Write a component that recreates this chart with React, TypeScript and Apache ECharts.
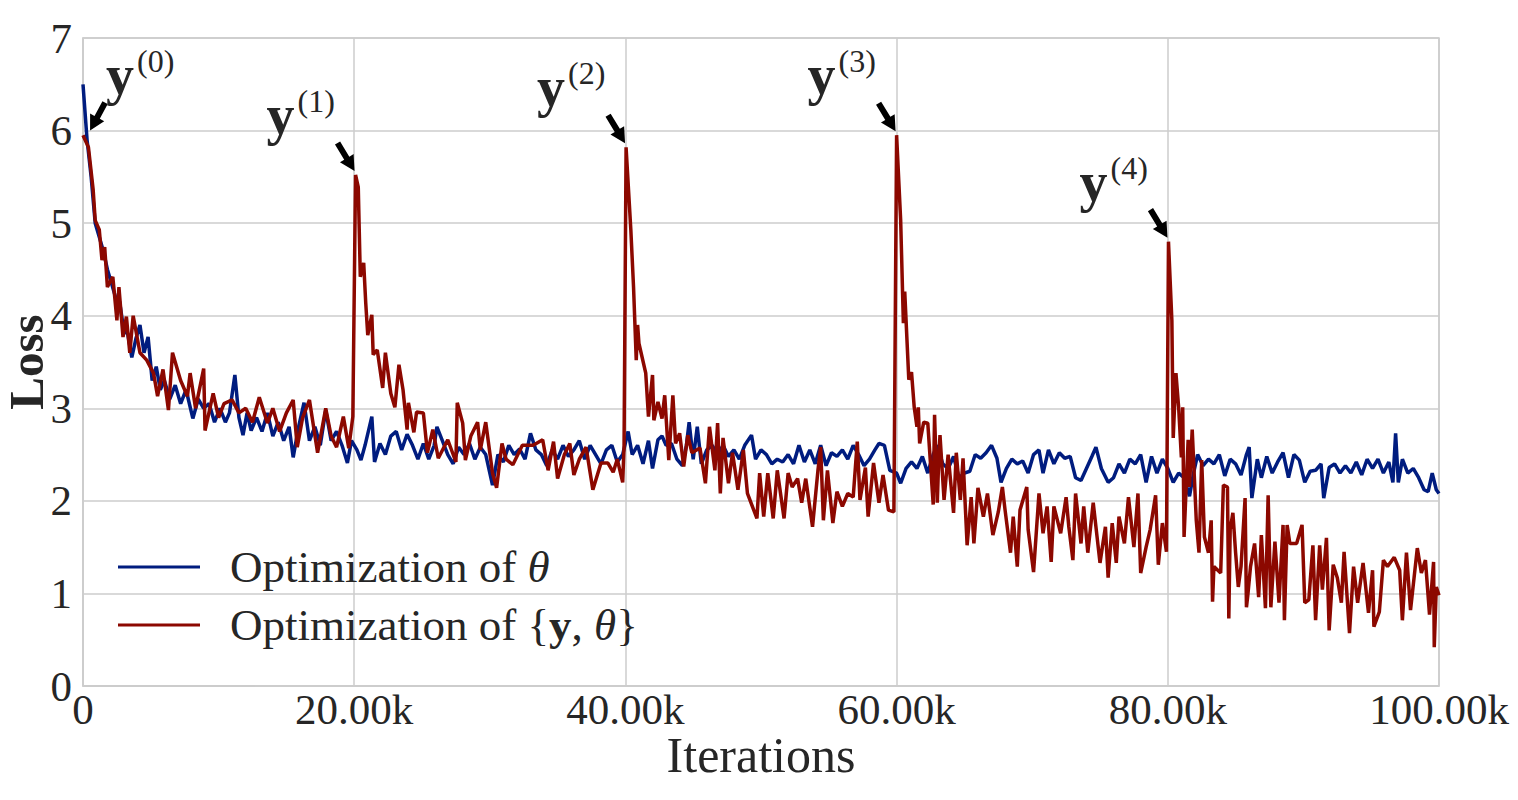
import React, { useEffect, useRef } from "react";
import * as echarts from "echarts";

// ---- data (iterations in thousands, loss) ----
const xTickLabels = ["0", "20.00k", "40.00k", "60.00k", "80.00k", "100.00k"];
const yTickLabels = ["0", "1", "2", "3", "4", "5", "6", "7"];
const seriesNames = ["Optimization of θ", "Optimization of {y, θ}"];

const thetaLoss: [number, number][] = [
  [0, 6.5], [0.3, 5.9], [0.6, 5.5], [0.9, 5.0], [1.2, 4.85], [1.5, 4.7], [1.8, 4.5], [2.1, 4.35], [2.4, 4.2], [2.7, 4.15],
  [3.0, 3.85], [3.3, 3.8], [3.6, 3.55], [3.9, 3.75], [4.2, 3.9], [4.5, 3.6], [4.8, 3.77], [5.1, 3.3], [5.4, 3.45], [5.7, 3.2],
  [6.0, 3.3], [6.4, 3.1], [6.8, 3.25], [7.2, 3.05], [7.6, 3.2], [8.1, 2.89], [8.5, 3.1], [8.9, 3.0], [9.3, 3.05], [9.7, 2.85],
  [10.1, 3.0], [10.5, 2.85], [10.8, 2.95], [11.2, 3.36], [11.5, 2.9], [11.8, 2.71], [12.1, 2.95], [12.4, 2.76], [12.8, 2.9], [13.2, 2.75],
  [13.6, 2.95], [14.0, 2.7], [14.4, 2.85], [14.8, 2.65], [15.2, 2.8], [15.5, 2.47], [15.9, 2.8], [16.3, 3.06], [16.7, 2.65], [17.1, 2.8],
  [17.5, 2.6], [17.9, 2.98], [18.3, 2.65], [18.7, 2.75], [19.1, 2.6], [19.5, 2.41], [19.8, 2.65], [20.2, 2.55], [20.5, 2.44], [20.8, 2.6],
  [21.3, 2.91], [21.5, 2.42], [21.9, 2.62], [22.3, 2.5], [22.7, 2.7], [23.1, 2.75], [23.5, 2.55], [23.9, 2.72], [24.3, 2.6], [24.7, 2.45],
  [25.1, 2.62], [25.5, 2.45], [25.9, 2.6], [26.1, 2.8], [26.5, 2.65], [26.9, 2.5], [27.3, 2.4], [27.7, 2.58], [28.1, 2.5], [28.5, 2.62],
  [28.9, 2.45], [29.3, 2.58], [29.7, 2.5], [30.2, 2.17], [30.6, 2.5], [31.0, 2.42], [31.4, 2.6], [31.8, 2.5], [32.2, 2.56], [32.6, 2.45],
  [33.0, 2.73], [33.4, 2.55], [33.8, 2.5], [34.2, 2.38], [34.6, 2.55], [35.0, 2.45], [35.4, 2.6], [35.8, 2.48], [36.2, 2.55], [36.6, 2.65],
  [37.0, 2.45], [37.4, 2.6], [37.8, 2.5], [38.2, 2.4], [38.6, 2.55], [39.0, 2.6], [39.4, 2.42], [39.8, 2.5], [40.2, 2.75], [40.5, 2.5],
  [40.9, 2.6], [41.3, 2.4], [41.7, 2.65], [42.0, 2.35], [42.4, 2.66], [42.7, 2.7], [43.0, 2.6], [43.4, 2.62], [43.8, 2.45], [44.2, 2.38],
  [44.5, 2.6], [44.7, 2.85], [45.0, 2.45], [45.3, 2.8], [45.6, 2.4], [46.0, 2.55], [46.4, 2.6], [46.8, 2.5], [47.2, 2.6], [47.6, 2.48],
  [48.0, 2.55], [48.4, 2.45], [48.8, 2.6], [49.3, 2.71], [49.6, 2.45], [50.0, 2.55], [50.4, 2.5], [50.8, 2.4], [51.2, 2.45], [51.6, 2.42],
  [52.0, 2.5], [52.4, 2.4], [52.8, 2.6], [53.2, 2.42], [53.6, 2.55], [54.0, 2.4], [54.4, 2.6], [54.8, 2.38], [55.2, 2.52], [55.6, 2.48],
  [56.0, 2.55], [56.4, 2.45], [56.8, 2.6], [57.2, 2.5], [57.6, 2.38], [58.0, 2.45], [58.4, 2.55], [58.7, 2.62], [59.1, 2.6], [59.5, 2.33],
  [60.0, 2.3], [60.3, 2.19], [60.7, 2.35], [61.1, 2.42], [61.5, 2.35], [61.9, 2.48], [62.3, 2.3], [62.7, 2.5], [63.0, 2.6], [63.4, 2.4],
  [63.8, 2.35], [64.2, 2.48], [64.6, 2.25], [65.0, 2.3], [65.4, 2.32], [65.8, 2.5], [66.2, 2.46], [66.6, 2.52], [67.0, 2.6], [67.4, 2.46],
  [67.7, 2.2], [68.1, 2.35], [68.5, 2.45], [68.9, 2.4], [69.3, 2.43], [69.7, 2.3], [70.1, 2.5], [70.5, 2.55], [70.8, 2.3], [71.2, 2.55],
  [71.6, 2.4], [72.0, 2.52], [72.4, 2.46], [72.8, 2.48], [73.2, 2.25], [73.6, 2.22], [74.0, 2.35], [74.4, 2.48], [74.7, 2.58], [75.1, 2.35],
  [75.6, 2.2], [76.0, 2.25], [76.4, 2.4], [76.8, 2.3], [77.2, 2.45], [77.6, 2.4], [78.0, 2.5], [78.4, 2.2], [78.8, 2.48], [79.2, 2.3],
  [79.6, 2.45], [80.0, 2.35], [80.4, 2.2], [80.8, 2.3], [81.2, 2.25], [81.6, 2.05], [81.9, 2.3], [82.2, 2.5], [82.6, 2.38], [83.0, 2.45],
  [83.4, 2.4], [83.8, 2.5], [84.2, 2.27], [84.6, 2.45], [85.0, 2.4], [85.4, 2.28], [85.8, 2.5], [86.0, 2.58], [86.2, 2.03], [86.6, 2.45],
  [86.9, 2.25], [87.3, 2.48], [87.7, 2.3], [88.1, 2.42], [88.5, 2.52], [88.9, 2.25], [89.3, 2.5], [89.7, 2.44], [90.1, 2.2], [90.5, 2.32],
  [90.9, 2.33], [91.3, 2.4], [91.5, 2.03], [91.9, 2.36], [92.3, 2.4], [92.7, 2.3], [93.1, 2.38], [93.5, 2.3], [93.9, 2.42], [94.3, 2.28],
  [94.7, 2.45], [95.1, 2.35], [95.5, 2.45], [95.9, 2.3], [96.3, 2.42], [96.6, 2.2], [96.8, 2.73], [97.0, 2.2], [97.3, 2.45], [97.7, 2.3],
  [98.1, 2.35], [98.5, 2.25], [98.9, 2.12], [99.2, 2.1], [99.5, 2.3], [99.8, 2.12], [100.0, 2.08],
];

const jointLoss: [number, number][] = [
  [0, 5.95], [0.4, 5.82], [0.75, 5.36], [0.9, 5.03], [1.2, 4.93], [1.4, 4.6], [1.6, 4.74], [1.8, 4.31], [2.2, 4.42], [2.5, 3.95],
  [2.65, 4.31], [2.95, 3.77], [3.2, 3.99], [3.45, 3.6], [3.7, 4.0], [4.2, 3.6], [4.7, 3.52], [5.2, 3.38], [5.5, 3.13], [5.9, 3.42],
  [6.3, 2.98], [6.6, 3.6], [7.2, 3.3], [7.7, 3.13], [7.9, 3.38], [8.3, 3.0], [8.9, 3.43], [9.0, 2.76], [9.6, 3.16], [10.0, 2.9],
  [10.4, 3.05], [11.0, 3.09], [11.5, 2.95], [12.0, 3.0], [12.5, 2.85], [13.0, 3.12], [13.6, 2.84], [14.0, 3.0], [14.5, 2.75], [15.0, 2.95],
  [15.5, 3.09], [15.8, 2.58], [16.2, 2.9], [16.7, 3.09], [17.3, 2.52], [17.9, 3.0], [18.3, 2.7], [18.7, 2.58], [19.2, 2.91], [19.6, 2.57],
  [19.9, 2.91],
  [20.1, 5.52], [20.3, 5.39], [20.45, 4.42], [20.7, 4.57], [20.85, 4.14], [21.0, 3.79], [21.3, 4.01], [21.4, 3.58], [21.7, 3.63], [22.1, 3.22],
  [22.3, 3.6], [22.7, 3.16], [23.0, 3.01], [23.3, 3.47], [23.6, 3.2], [23.9, 2.77], [24.0, 3.06], [24.4, 2.74], [24.6, 2.96], [25.1, 2.95],
  [25.4, 2.52], [25.8, 2.77], [26.2, 2.46], [26.9, 2.66], [27.5, 2.42], [27.6, 3.06], [28.0, 2.84], [28.2, 2.44], [28.6, 2.7], [29.1, 2.85],
  [29.3, 2.55], [29.7, 2.85], [30.2, 2.3], [30.5, 2.14], [30.9, 2.62], [31.2, 2.45], [31.7, 2.39], [32.4, 2.6], [33.2, 2.6], [33.9, 2.66],
  [34.3, 2.33], [34.7, 2.64], [35.0, 2.24], [35.5, 2.5], [35.9, 2.62], [36.2, 2.28], [36.6, 2.45], [37.1, 2.58], [37.6, 2.12], [38.2, 2.41],
  [38.7, 2.41], [39.1, 2.31], [39.4, 2.45], [39.8, 2.2], [39.9, 2.58],
  [40.05, 5.82], [40.4, 4.93], [40.6, 4.31], [40.8, 3.52], [40.9, 3.9], [41.0, 3.7], [41.5, 3.38], [41.7, 2.91], [42.0, 3.36], [42.1, 2.87],
  [42.4, 3.07], [42.7, 2.89], [42.9, 3.14], [43.2, 2.44], [43.5, 3.14], [43.7, 2.62], [44.0, 2.73], [44.3, 2.37], [44.6, 2.71], [44.9, 2.52],
  [45.5, 2.57], [45.9, 2.19], [46.2, 2.8], [46.6, 2.33], [46.8, 2.84], [47.0, 2.08], [47.2, 2.68], [47.6, 2.19], [47.9, 2.52], [48.3, 2.12],
  [48.7, 2.55], [49.0, 2.08], [49.7, 1.81], [49.9, 2.3], [50.2, 1.83], [50.5, 2.3], [50.9, 1.81], [51.2, 2.33], [51.7, 1.81], [52.0, 2.3],
  [52.3, 2.15], [52.7, 2.24], [53.0, 1.98], [53.3, 2.24], [53.8, 1.72], [54.2, 2.33], [54.4, 2.58], [54.6, 1.79], [54.9, 2.33], [55.3, 1.76],
  [55.6, 2.1], [56.0, 1.94], [56.4, 2.08], [56.8, 2.04], [57.1, 2.64], [57.3, 2.01], [57.7, 2.36], [57.9, 1.83], [58.3, 2.41], [58.7, 1.98],
  [59.0, 2.28], [59.4, 1.9], [59.8, 1.88],
  [60.0, 5.95], [60.3, 5.03], [60.5, 3.92], [60.6, 4.26], [60.9, 3.31], [61.1, 3.39], [61.3, 3.01], [61.5, 2.8], [61.6, 3.01], [61.7, 2.62],
  [62.0, 2.85], [62.3, 2.84], [62.7, 1.96], [62.8, 2.93], [63.0, 1.98], [63.1, 2.42], [63.2, 2.71], [63.5, 2.01], [63.8, 2.5], [64.2, 1.87],
  [64.4, 2.52], [64.7, 2.01], [64.9, 2.46], [65.2, 1.52], [65.5, 2.04], [65.7, 1.54], [66.0, 2.14], [66.4, 1.83], [66.7, 2.08], [67.1, 1.63],
  [67.5, 1.88], [67.8, 2.15], [68.0, 1.9], [68.4, 1.44], [68.6, 1.83], [68.9, 1.29], [69.1, 1.9], [69.6, 2.15], [69.7, 1.69], [70.1, 1.23],
  [70.5, 2.08], [70.8, 1.65], [71.1, 1.94], [71.4, 1.34], [71.6, 1.94], [72.1, 1.65], [72.5, 2.04], [72.7, 1.72], [73.0, 1.36], [73.2, 2.08],
  [73.6, 1.54], [73.8, 1.94], [74.1, 1.44], [74.5, 1.98], [75.0, 1.33], [75.4, 1.72], [75.6, 1.17], [75.9, 1.76], [76.2, 1.33], [76.4, 1.83],
  [76.8, 1.54], [77.1, 2.04], [77.5, 1.5], [77.8, 2.08], [78.0, 1.22], [78.4, 1.5], [78.7, 1.69], [79.1, 2.06], [79.3, 1.31], [79.6, 1.76],
  [79.9, 1.45],
  [80.05, 4.8], [80.3, 3.95], [80.4, 2.68], [80.6, 3.38], [80.8, 3.01], [81.0, 2.47], [81.1, 3.01], [81.2, 1.61], [81.5, 2.66], [81.6, 2.15],
  [81.8, 2.77], [82.1, 1.79], [82.3, 1.44], [82.5, 2.44], [82.7, 1.61], [83.0, 1.44], [83.2, 1.79], [83.3, 0.91], [83.4, 1.29], [83.9, 1.22],
  [84.1, 2.17], [84.4, 2.15], [84.5, 0.73], [84.6, 1.69], [84.8, 1.87], [85.0, 1.44], [85.2, 1.07], [85.4, 1.29], [85.7, 2.03], [85.8, 0.85],
  [85.9, 0.98], [86.1, 1.29], [86.4, 1.54], [86.7, 0.96], [86.9, 1.63], [87.2, 0.84], [87.4, 2.06], [87.6, 0.85], [87.9, 1.56], [88.2, 0.9],
  [88.5, 1.74], [88.6, 0.71], [88.8, 1.74], [89.0, 1.54], [89.5, 1.54], [89.9, 1.74], [90.1, 0.9], [90.4, 0.93], [90.7, 1.52], [90.9, 0.71],
  [91.2, 1.52], [91.4, 1.04], [91.7, 1.6], [91.9, 0.6], [92.2, 1.31], [92.5, 1.17], [92.8, 0.9], [93.0, 1.45], [93.4, 0.57], [93.7, 1.29],
  [94.0, 0.9], [94.4, 1.33], [94.8, 0.79], [95.1, 1.25], [95.2, 0.64], [95.6, 0.8], [95.9, 1.36], [96.2, 1.29], [96.7, 1.39], [97.1, 1.25],
  [97.3, 0.71], [97.6, 1.44], [97.9, 0.82], [98.4, 1.49], [98.7, 1.22], [99.0, 1.36], [99.3, 0.77], [99.6, 1.34], [99.65, 0.42], [99.8, 1.07],
  [100.0, 0.98],
];

// restart annotations: y^(k) pointing at the loss spikes
const restartLabels = ["(0)", "(1)", "(2)", "(3)", "(4)"];
const restartIter = [0.3, 20.1, 40.05, 60.0, 80.05];
const restartLoss = [6.0, 5.52, 5.82, 5.95, 4.8];

const FONT = '"Liberation Serif", "Times New Roman", serif';
const TEXT = "#262626";
const BLUE = "#001c7f";
const RED = "#8c0800";

export default function App() {
  const ref = useRef<HTMLDivElement>(null);

  useEffect(() => {
    document.body.style.margin = "0";
    const el = ref.current!;
    const chart = echarts.init(el, undefined, { renderer: "svg" });

    const option: any = {
      animation: false,
      backgroundColor: "#ffffff",
      grid: {
        left: 83,
        right: 79,
        top: 38,
        bottom: 114,
        outerBoundsMode: "none",
        containLabel: false,
        show: true,
        borderColor: "#cccccc",
        borderWidth: 1.5,
      },
      legend: {
        orient: "vertical",
        left: 113,
        top: 537,
        itemWidth: 82,
        itemHeight: 3,
        itemGap: 8,
        icon: "rect",
        data: seriesNames,
        formatter: (name: string) =>
          name === seriesNames[0]
            ? "{n|Optimization of }{i|θ}"
            : "{n|Optimization of {}{b|y}{n|, }{i|θ}}",
        textStyle: {
          fontFamily: FONT,
          fontSize: 45,
          color: TEXT,
          lineHeight: 50,
          padding: [0, 0, 0, 25],
          rich: {
            n: { fontFamily: FONT, fontSize: 45, color: TEXT, lineHeight: 50 },
            i: { fontFamily: FONT, fontSize: 45, color: TEXT, fontStyle: "italic", lineHeight: 50 },
            b: { fontFamily: FONT, fontSize: 45, color: TEXT, fontWeight: "bold", lineHeight: 50 },
          },
        },
      },
      xAxis: {
        type: "value",
        min: 0,
        max: 100,
        interval: 20,
        name: "Iterations",
        nameLocation: "middle",
        nameGap: 44,
        nameMoveOverlap: false,
        nameTextStyle: { fontFamily: FONT, fontSize: 50, color: TEXT },
        axisLine: { show: true, lineStyle: { color: "#cccccc", width: 1.5 } },
        axisTick: { show: false },
        splitLine: { show: true, lineStyle: { color: "#cccccc", width: 1.5 } },
        axisLabel: {
          fontFamily: FONT,
          fontSize: 43,
          color: TEXT,
          margin: 2,
          formatter: (v: number) => xTickLabels[Math.round(v / 20)] ?? "",
        },
      },
      yAxis: {
        type: "value",
        min: 0,
        max: 7,
        interval: 1,
        name: "Loss",
        nameLocation: "middle",
        nameGap: 34,
        nameMoveOverlap: false,
        nameTextStyle: {
          fontFamily: FONT,
          fontSize: 49,
          lineHeight: 46,
          color: TEXT,
          fontWeight: "bold",
        },
        axisLine: { show: true, lineStyle: { color: "#cccccc", width: 1.5 } },
        axisTick: { show: false },
        splitLine: { show: true, lineStyle: { color: "#cccccc", width: 1.5 } },
        axisLabel: {
          fontFamily: FONT,
          fontSize: 43,
          color: TEXT,
          margin: 11,
          formatter: (v: number) => yTickLabels[Math.round(v)] ?? "",
        },
      },
      series: [
        {
          name: seriesNames[0],
          type: "line",
          data: thetaLoss,
          showSymbol: false,
          symbol: "none",
          lineStyle: { color: BLUE, width: 3.5 },
          itemStyle: { color: BLUE },
          z: 2,
        },
        {
          name: seriesNames[1],
          type: "line",
          data: jointLoss,
          showSymbol: false,
          symbol: "none",
          lineStyle: { color: RED, width: 3.5 },
          itemStyle: { color: RED },
          z: 3,
        },
      ],
    };

    chart.setOption(option);

    const graphics: any[] = [];
    restartIter.forEach((it, k) => {
      const p = chart.convertToPixel({ gridIndex: 0 }, [it, restartLoss[k]]) as number[];
      const first = k === 0;
      const tipX = p[0] + (first ? 3 : -1);
      const tipY = p[1] - (first ? 0 : 4);
      const tailX = first ? tipX + 15 : tipX - 17;
      const tailY = tipY - 28;
      const dx = tipX - tailX;
      const dy = tipY - tailY;
      const L = Math.hypot(dx, dy);
      const ux = dx / L;
      const uy = dy / L;
      const nx = -uy;
      const ny = ux;
      const headLen = 15;
      const hw = 8;
      const sw = 3;
      const bx = tipX - ux * headLen;
      const by = tipY - uy * headLen;
      graphics.push({
        type: "polygon",
        silent: true,
        z: 10,
        shape: {
          points: [
            [tailX + nx * sw, tailY + ny * sw],
            [bx + nx * sw, by + ny * sw],
            [bx + nx * hw, by + ny * hw],
            [tipX, tipY],
            [bx - nx * hw, by - ny * hw],
            [bx - nx * sw, by - ny * sw],
            [tailX - nx * sw, tailY - ny * sw],
          ],
        },
        style: { fill: "#000000" },
      });
      const yX = first ? tipX + 16 : tipX - 88;
      graphics.push({
        type: "text",
        silent: true,
        z: 10,
        x: yX,
        y: tipY - 56,
        style: {
          text: "y",
          font: `bold 56px ${FONT}`,
          fill: TEXT,
          align: "left",
          verticalAlign: "middle",
        },
      });
      graphics.push({
        type: "text",
        silent: true,
        z: 10,
        x: yX + 31,
        y: tipY - 70,
        style: {
          text: restartLabels[k],
          font: `32px ${FONT}`,
          fill: TEXT,
          align: "left",
          verticalAlign: "middle",
        },
      });
    });
    chart.setOption({ graphic: graphics });

    return () => {
      chart.dispose();
    };
  }, []);

  return <div ref={ref} style={{ width: 1518, height: 800 }} />;
}
